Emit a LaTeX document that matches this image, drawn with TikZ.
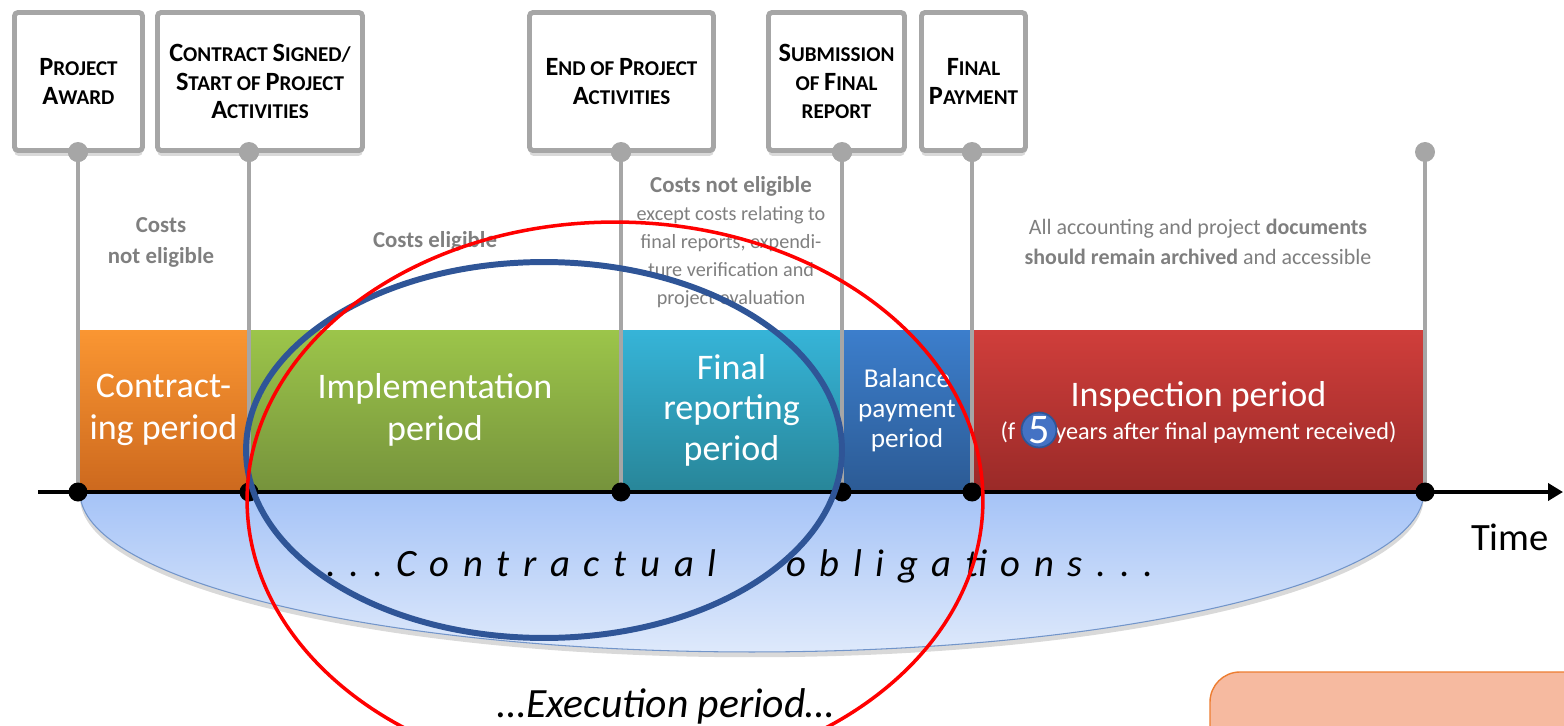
\documentclass[tikz,border=0pt]{standalone}
\usepackage{fontspec}
\setmainfont{Carlito}
\usepackage{tikz}
\usetikzlibrary{shapes, arrows.meta, positioning, fit, backgrounds, shadows}
\definecolor{postgray}{HTML}{A6A6A6}
\definecolor{notegray}{HTML}{7F7F7F}
\definecolor{contrtop}{HTML}{FA9632}
\definecolor{contrbot}{HTML}{CD691E}
\definecolor{impltop}{HTML}{9CC54A}
\definecolor{implbot}{HTML}{76933C}
\definecolor{reptop}{HTML}{36B4D8}
\definecolor{repbot}{HTML}{288699}
\definecolor{baltop}{HTML}{3C7ECC}
\definecolor{balbot}{HTML}{2C5B95}
\definecolor{insptop}{HTML}{D03E3B}
\definecolor{inspbot}{HTML}{9A2A28}
\definecolor{obltop}{HTML}{A5C3F7}
\definecolor{oblbot}{HTML}{DEE9FB}
\definecolor{oblline}{HTML}{7295CA}
\definecolor{navy}{HTML}{2F5597}
\definecolor{badge}{HTML}{4472C4}
\definecolor{peach}{HTML}{F6BAA0}
\definecolor{peachline}{HTML}{ED7D31}
\newcommand\capfirst[1]{{\fontsize{15}{16}\selectfont #1}}
\tikzset{
    milestone/.style={rectangle, draw=postgray, line width=2.8pt, fill=white, rounded corners=2pt, inner sep=0pt, align=center,
        font=\fontsize{12}{16}\selectfont\bfseries, drop shadow={shadow xshift=0pt, shadow yshift=-3pt, opacity=0.3}},
    period/.style={rectangle, inner sep=0pt},
    periodtext/.style={align=center, text=white, font=\fontsize{20.5}{24}\selectfont},
    note/.style={align=center, text=notegray, font=\fontsize{13}{17.6}\selectfont\bfseries},
    post/.style={postgray, line width=2.3pt},
    postdot/.style={circle, fill=postgray, minimum size=0.4cm, inner sep=0pt},
    tdot/.style={circle, fill=black, minimum size=0.38cm, inner sep=0pt},
    timeline/.style={line width=2.8pt, -{Triangle[length=0.3cm, width=0.34cm]}},
    ring/.style={line width=3.4pt, draw=navy},
}
\begin{document}
\begin{tikzpicture}[x=0.02cm, y=-0.02cm]
\useasboundingbox (0,0) rectangle (1564,726);
\clip (0,0) rectangle (1564,726);

% ── Contractual obligations (under the time line) ──
\path[draw=oblline, line width=0.6pt, top color=obltop, bottom color=oblbot,
    drop shadow={shadow xshift=0pt, shadow yshift=-3pt, opacity=0.3}]
    (80,492) arc[start angle=180, end angle=360, x radius=13.44cm, y radius=3.2cm] -- cycle;

% ── Periods ──
\node[period, fit={(78,330) (249,490)}, top color=contrtop, bottom color=contrbot] (contracting) {};
\node[period, fit={(249,330) (621,490)}, top color=impltop, bottom color=implbot] (implementation) {};
\node[period, fit={(621,330) (842,490)}, top color=reptop, bottom color=repbot] (reporting) {};
\node[period, fit={(842,330) (972,490)}, top color=baltop, bottom color=balbot] (balance) {};
\node[period, fit={(972,330) (1425,490)}, top color=insptop, bottom color=inspbot] (inspection) {};

\node[periodtext] at (contracting.center) {Contract-\\ing period};
\node[periodtext] at (implementation.center) {Implementation\\period};
\node[periodtext, font=\fontsize{20.5}{23}\selectfont] at (reporting.center) {Final\\reporting\\period};
\node[periodtext, font=\fontsize{15.5}{17}\selectfont] at (balance.center) {Balance\\payment\\period};
\node[periodtext] (insptext) at ([yshift=-0.05cm]inspection.center)
    {Inspection period\\[-5.3pt]{\fontsize{13.8}{16}\selectfont (f\hspace{0.8cm}years after final payment received)}};

% ── Posts ──
\foreach \x/\name in {78/pa, 249/pb, 621/pc, 842/pd, 972/pe, 1425/pf} {
    \node[postdot] (\name) at (\x,152) {};
    \coordinate (t\name) at (\x,492);
    \draw[post] (\name.center) -- (t\name);
}

% ── Time line ──
\coordinate (tstart) at (38,492);
\coordinate (tend) at (1563,492);
\draw[timeline] (tstart) -- (tend);
\foreach \name in {pa, pb, pc, pd, pe, pf}
    \node[tdot] at (t\name) {};
\node[font=\fontsize{22}{26}\selectfont] (time) at (1510,537) {Time};

% ── Milestones ──
\node[milestone, minimum width=2.56cm, minimum height=2.76cm] (award) at (78.5,81.5) {\capfirst{P}ROJECT\\\capfirst{A}WARD};
\node[milestone, minimum width=4.1cm, minimum height=2.76cm] (signed) at (260,81.5) {\capfirst{C}ONTRACT \capfirst{S}IGNED/\\\capfirst{S}TART OF \capfirst{P}ROJECT\\\capfirst{A}CTIVITIES};
\node[milestone, minimum width=3.68cm, minimum height=2.76cm] (endact) at (621.5,81.5) {\capfirst{E}ND OF \capfirst{P}ROJECT\\\capfirst{A}CTIVITIES};
\node[milestone, minimum width=2.72cm, minimum height=2.76cm] (submit) at (836.5,81.5) {\capfirst{S}UBMISSION\\OF \capfirst{F}INAL\\REPORT};
\node[milestone, minimum width=2.08cm, minimum height=2.76cm] (payment) at (973.5,81.5) {\capfirst{F}INAL\\\capfirst{P}AYMENT};
\foreach \name in {pa, pb, pc, pd, pe}
    \node[postdot] at (\name) {};

% ── Eligibility notes ──
\node[note] (costsa) at (161,242) {Costs\\not eligible};
\node[note] (costsb) at (435,241) {Costs eligible};
\node[note, font=\fontsize{11.5}{16}\selectfont] (costsc) at (731,242)
    {{\bfseries\fontsize{13}{16}\selectfont Costs not eligible}\\except costs relating to\\final reports, expendi-\\ture verification and\\project evaluation};
\node[note, font=\fontsize{12.5}{17}\selectfont] (archive) at (1198,242)
    {All accounting and project \textbf{documents}\\\textbf{should remain archived} and accessible};

\node[font=\fontsize{22}{26}\selectfont\itshape\addfontfeatures{LetterSpace=35.5}] (oblig) at (740,566)
    {...Contractual\hspace{1.8em}obligations...};

% ── Highlights ──
\draw[ring] (544,450) ellipse [x radius=5.96cm, y radius=3.76cm];
\draw[red, line width=2pt] (615,500) ellipse [x radius=7.36cm, y radius=5.56cm];
\node[circle, fill=badge, draw=navy, line width=1pt, minimum size=0.7cm, inner sep=0pt,
    label={[text=white, font=\fontsize{24}{24}\selectfont, inner sep=0pt]center:5}] (five) at (1039,430) {};

\node[font=\fontsize{23.7}{28}\selectfont\itshape] (exec) at (666,706) {…Execution period…};
\draw[peachline, fill=peach, line width=0.8pt, rounded corners=0.6cm] (1210,672) rectangle (1620,800);

\end{tikzpicture}
\end{document}
